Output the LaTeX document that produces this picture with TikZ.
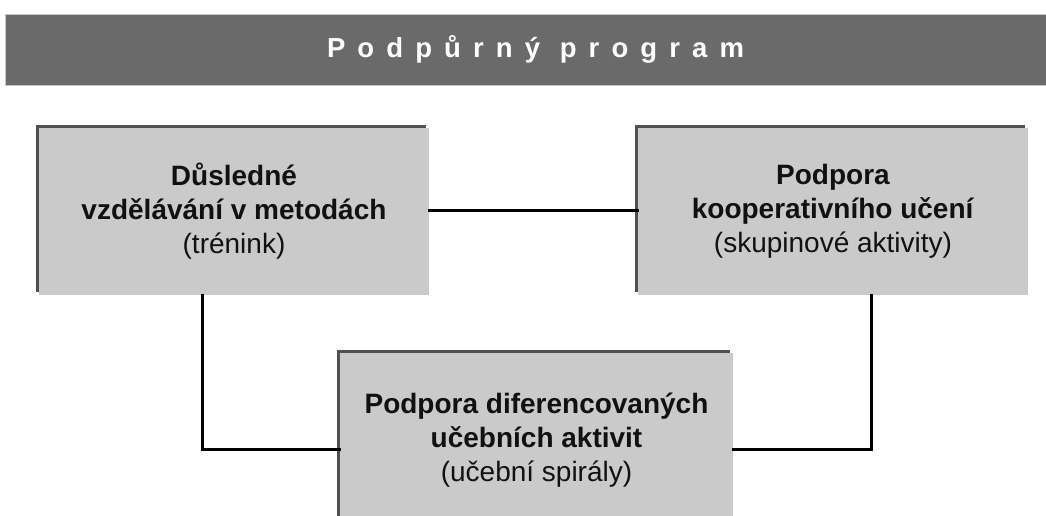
\documentclass[tikz,border=0pt]{standalone}
\usepackage{fontspec}
\setmainfont{Liberation Sans}
\usetikzlibrary{shadows}
\definecolor{barfill}{HTML}{6A6A6A}
\definecolor{barline}{HTML}{C6C6C6}
\definecolor{boxfill}{HTML}{CACACA}
\definecolor{boxshade}{HTML}{505050}
\definecolor{ink}{HTML}{111111}
\begin{document}
\begin{tikzpicture}[x=1pt,y=-1pt,
  block/.style={fill=boxfill, minimum width=390pt, minimum height=167pt,
    inner sep=0pt, align=center, text=ink,
    font=\fontsize{28}{34}\selectfont,
    drop shadow={shadow xshift=-3pt, shadow yshift=3pt, fill=boxshade, opacity=1}},
  link/.style={line width=3pt, black, line cap=rect}]
\useasboundingbox (0,0) rectangle (1046,515);
\fill[white] (0,0) rectangle (1046,515);
\clip (0,0) rectangle (1046,515);

% heading bar
\node[fill=barfill, draw=barline, line width=1.2pt, minimum width=1060pt,
  minimum height=71pt, anchor=north west, inner sep=0pt] (bar) at (5,14) {};
\node[anchor=base, text=white, inner sep=0pt,
  font=\fontsize{27.5}{27.5}\selectfont\bfseries\addfontfeature{LetterSpace=44}]
  (title) at (535.5,57) {Podpůrný program};

% the three blocks
\node[block] (L) at (234,211.5)
  {\textbf{Důsledné}\\\textbf{vzdělávání v metodách}\\(trénink)};
\node[block] (R) at (833,211.5)
  {\textbf{Podpora}\\\textbf{kooperativního učení}\\(skupinové aktivity)};
\node[block, minimum width=393pt, minimum height=174pt] (B) at (536.5,440)
  {\textbf{Podpora diferencovaných}\\\textbf{učebních aktivit}\\(učební spirály)};

% connectors
\coordinate (top) at (0,210);
\coordinate (lx) at (202,0);
\coordinate (rx) at (871,0);
\coordinate (low) at (0,449);
\draw[link] (L.east |- top) -- (R.west |- top);
\draw[link] (L.south -| lx) |- (B.west |- low);
\draw[link] (R.south -| rx) |- (B.east |- low);
\end{tikzpicture}
\end{document}
